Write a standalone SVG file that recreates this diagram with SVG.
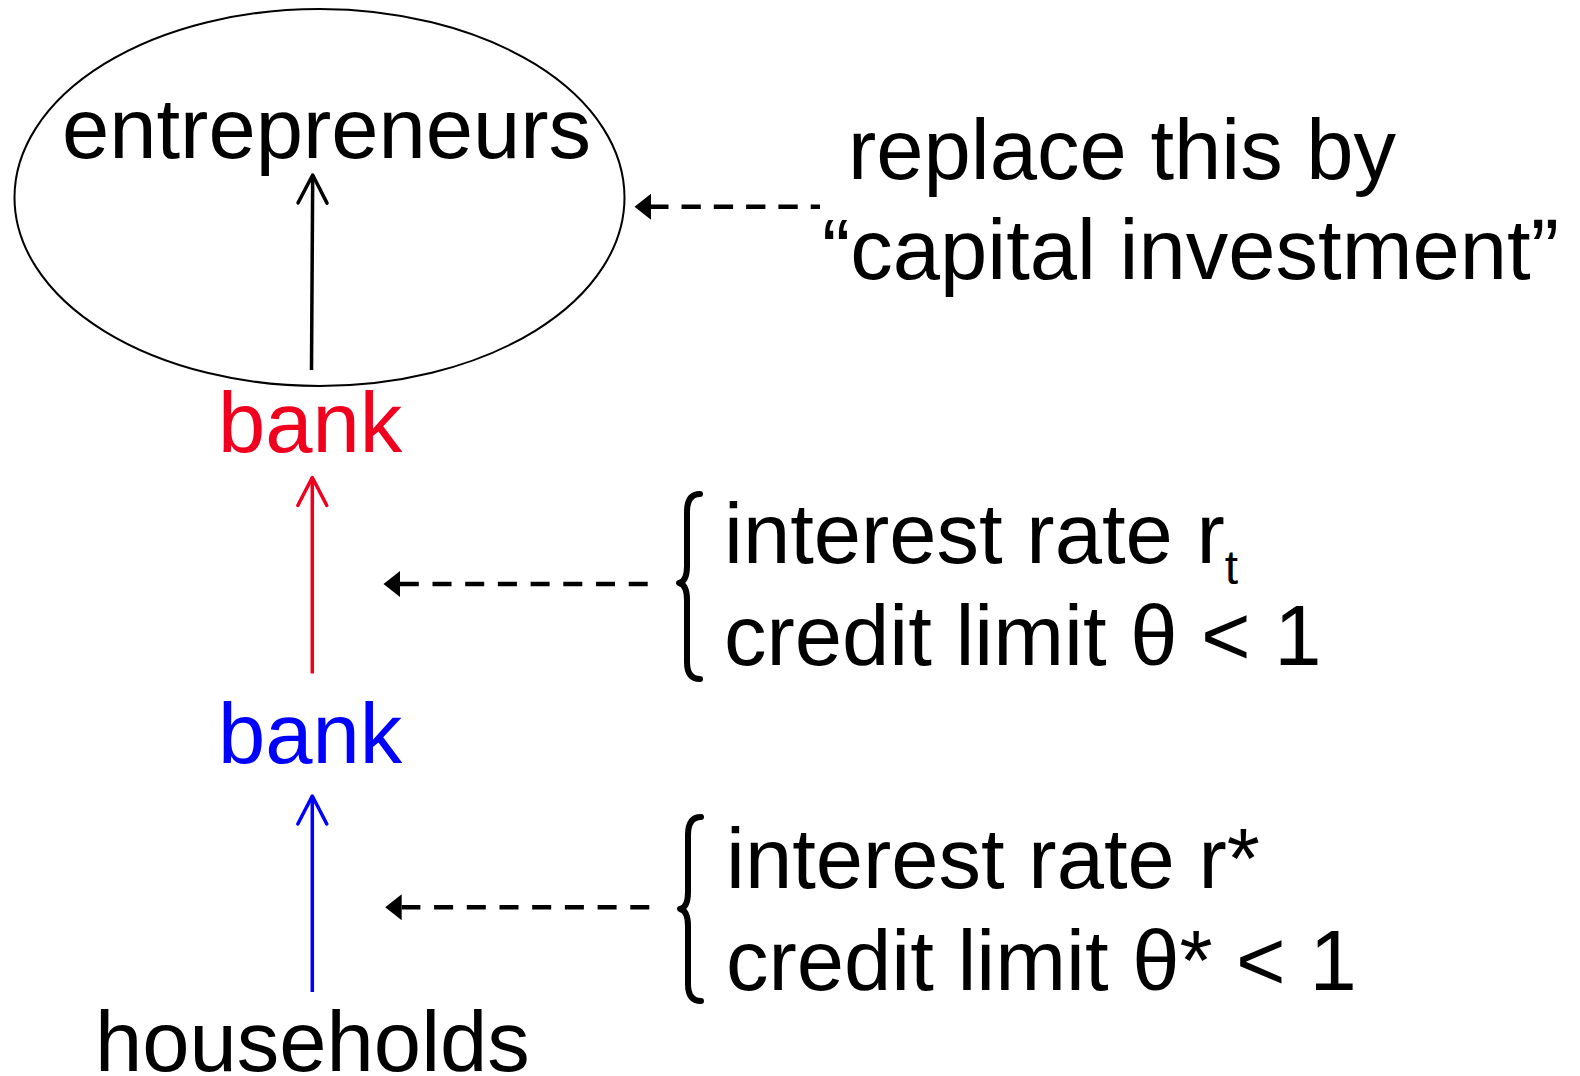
<svg xmlns="http://www.w3.org/2000/svg" width="1580" height="1076" viewBox="0 0 1580 1076">
<style>
text{font-family:"Liberation Sans",Arial,sans-serif;fill:#000}
.big{font-size:85px}
.mid{font-size:85px}
.red{fill:#F0001E}
.blue{fill:#0000FF}
.solid{fill:none;stroke-width:3.5}
.dash{fill:none;stroke:#000;stroke-width:4.5}
.brace{fill:none;stroke:#000;stroke-width:6;stroke-linecap:round;stroke-linejoin:round}
</style>
<defs>
<marker id="chevK" markerUnits="userSpaceOnUse" orient="auto" refX="0" refY="0" overflow="visible" markerWidth="40" markerHeight="40"><path d="M-28,-14.5 L0,0 L-28,14.5" fill="none" stroke="#000" stroke-width="3.5" stroke-linecap="round" stroke-linejoin="round"/></marker>
<marker id="chevR" markerUnits="userSpaceOnUse" orient="auto" refX="0" refY="0" overflow="visible" markerWidth="40" markerHeight="40"><path d="M-28,-14.5 L0,0 L-28,14.5" fill="none" stroke="#F0001E" stroke-width="3.5" stroke-linecap="round" stroke-linejoin="round"/></marker>
<marker id="chevB" markerUnits="userSpaceOnUse" orient="auto" refX="0" refY="0" overflow="visible" markerWidth="40" markerHeight="40"><path d="M-28,-14.5 L0,0 L-28,14.5" fill="none" stroke="#0000FF" stroke-width="3.5" stroke-linecap="round" stroke-linejoin="round"/></marker>
<marker id="tri" markerUnits="userSpaceOnUse" orient="auto" refX="0" refY="0" overflow="visible" markerWidth="40" markerHeight="40"><path d="M0,-13 L16.5,0 L0,13 Z" fill="#000"/></marker>
</defs>

<g id="entrepreneurs">
<ellipse cx="319.5" cy="197.5" rx="305" ry="188.5" fill="none" stroke="#000" stroke-width="2"/>
<text class="big" x="62" y="158" font-size="87" textLength="529" lengthAdjust="spacingAndGlyphs">entrepreneurs</text>
</g>

<g id="bank-red">
<text class="big red" x="218" y="451.5" font-size="84">bank</text>
</g>

<g id="bank-blue">
<text class="big blue" x="218" y="762.5" font-size="84">bank</text>
</g>

<g id="households">
<text class="big" x="95" y="1071">households</text>
</g>

<g id="note-capital">
<text class="big" x="848" y="179" font-size="83">replace this by</text>
<text class="big" x="822" y="279" font-size="84">“capital investment”</text>
</g>

<g id="note-bank">
<path class="brace" d="M700,494 C691,494 687,500 687,512 L687,566 C687,577 684,582 679,583 C684,584 687,589 687,600 L687,662 C687,673 691,679 700,679"/>
<text class="mid" x="724" y="563">interest rate r<tspan font-size="48" dy="21">t</tspan></text>
<text class="mid" x="724" y="665" font-size="84.5">credit limit θ &lt; 1</text>
</g>

<g id="note-households">
<path class="brace" d="M701,817 C692,817 688,823 688,835 L688,892 C688,903 685,908 680,909 C685,910 688,915 688,926 L688,984 C688,995 692,1001 701,1001"/>
<text class="mid" x="726" y="888">interest rate r*</text>
<text class="mid" x="726" y="990" font-size="84.5">credit limit θ* &lt; 1</text>
</g>

<g id="connectors">
<path class="solid" stroke="#000" d="M311.5,370 L312.7,175" marker-end="url(#chevK)"/>
<path class="solid" stroke="#F0001E" d="M312.3,673.5 L312.3,477.5" marker-end="url(#chevR)"/>
<path class="solid" stroke="#0000FF" d="M312.3,992 L312.3,796" marker-end="url(#chevB)"/>
<path class="dash" d="M820,206.7 L651,206.7" stroke-dasharray="19.3 13" stroke-dashoffset="10" marker-end="url(#tri)"/>
<path class="dash" d="M647.7,584 L400,584" stroke-dasharray="19 13.7" marker-end="url(#tri)"/>
<path class="dash" d="M649.3,907.3 L401.7,907.3" stroke-dasharray="19 13.7" marker-end="url(#tri)"/>
</g>
</svg>
